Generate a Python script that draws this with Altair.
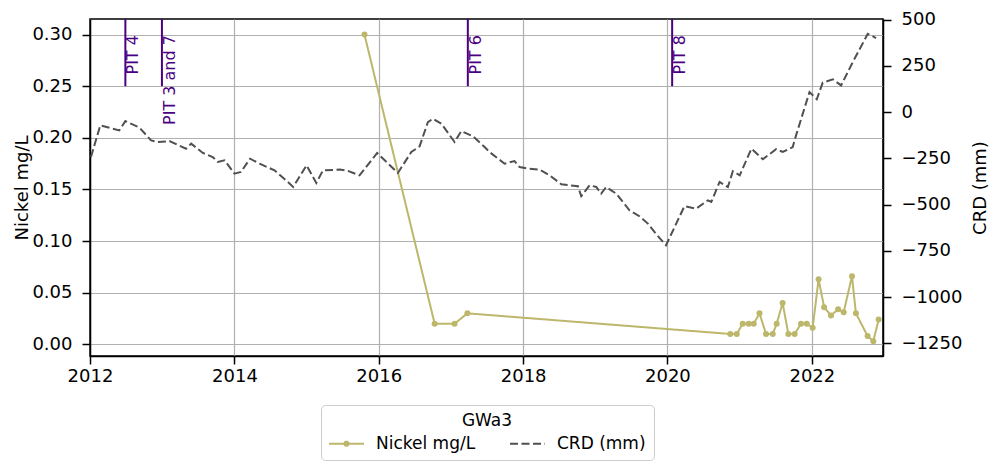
import altair as alt
import pandas as pd

# ---------------- data ----------------
series_names = ["Nickel mg/L", "CRD (mm)"]

nickel_dates = ["2015-10-21", "2016-10-10", "2017-01-19", "2017-03-25",
                "2020-11-14", "2020-12-17", "2021-01-16", "2021-02-15", "2021-03-13",
                "2021-04-11", "2021-05-14", "2021-06-17", "2021-07-07", "2021-08-06",
                "2021-09-04", "2021-10-06", "2021-11-07", "2021-12-06", "2022-01-05",
                "2022-02-04", "2022-03-04", "2022-04-08", "2022-05-14", "2022-06-11",
                "2022-07-23", "2022-08-12", "2022-10-10", "2022-11-08", "2022-12-05"]
nickel_values = [0.30, 0.02, 0.02, 0.03,
                 0.01, 0.01, 0.02, 0.02, 0.02,
                 0.03, 0.01, 0.01, 0.02, 0.04,
                 0.01, 0.01, 0.02, 0.02, 0.016,
                 0.063, 0.036, 0.028, 0.034, 0.031,
                 0.066, 0.030, 0.008, 0.003, 0.024]

crd_dates = ["2012-01-06", "2012-02-22", "2012-05-28", "2012-06-28", "2012-09-07",
             "2012-11-05", "2012-12-09", "2013-02-06", "2013-05-01", "2013-05-27",
             "2013-07-25", "2013-09-13", "2013-10-09", "2013-11-12", "2014-01-01",
             "2014-02-03", "2014-03-21", "2014-05-08", "2014-07-23", "2014-09-28",
             "2014-10-25", "2015-01-01", "2015-02-19", "2015-03-25", "2015-06-17",
             "2015-07-21", "2015-09-26", "2015-12-24", "2016-04-07", "2016-06-14",
             "2016-07-26", "2016-09-06", "2016-10-02", "2016-11-13", "2017-01-19",
             "2017-02-22", "2017-04-22", "2017-06-20", "2017-07-15", "2017-09-29",
             "2017-11-18", "2017-12-14", "2018-01-25", "2018-03-25", "2018-05-15",
             "2018-07-13", "2018-10-05", "2018-10-22", "2018-12-03", "2019-01-06",
             "2019-01-31", "2019-02-25", "2019-04-17", "2019-06-23", "2019-08-12",
             "2019-09-24", "2019-11-05", "2019-12-25", "2020-03-27", "2020-05-26",
             "2020-07-24", "2020-08-10", "2020-09-21", "2020-11-02", "2020-11-27",
             "2021-01-01", "2021-03-01", "2021-04-28", "2021-07-04", "2021-08-07",
             "2021-09-26", "2021-10-13", "2021-12-20", "2022-01-26", "2022-02-25",
             "2022-04-17", "2022-05-29", "2022-07-27", "2022-10-11", "2022-11-22"]
crd_values = [-243, -72, -99, -49, -84,
              -153, -162, -157, -198, -171,
              -221, -243, -270, -261, -333,
              -324, -252, -279, -315, -378,
              -405, -288, -383, -315, -311,
              -315, -342, -221, -329, -216,
              -185, -54, -36, -63, -162,
              -103, -131, -189, -216, -279,
              -265, -297, -306, -311, -342,
              -390, -401, -455, -396, -405,
              -441, -405, -441, -531, -563,
              -603, -660, -720, -509, -522,
              -477, -486, -378, -405, -320,
              -342, -198, -255, -201, -216,
              -189, -126, 108, 69, 159,
              177, 144, 270, 423, 400]

pit_dates = ["2012-06-28", "2012-12-30", "2017-03-27", "2020-01-25"]
pit_labels = ["PIT 4", "PIT 3 and 7", "PIT 6", "PIT 8"]

x_tick_years = [2012, 2014, 2016, 2018, 2020, 2022]
nickel_ticks = [0.0, 0.05, 0.10, 0.15, 0.20, 0.25, 0.30]
crd_ticks = [-1250, -1000, -750, -500, -250, 0, 250, 500]

nickel_df = pd.DataFrame({"date": nickel_dates, "nickel": nickel_values,
                          "series": series_names[0]})
crd_df = pd.DataFrame({"date": crd_dates, "crd": crd_values,
                       "series": series_names[1]})
pit_df = pd.DataFrame({"date": pit_dates, "label": pit_labels})

# ---------------- style ----------------
FONT = "DejaVu Sans"
NICKEL_COLOR = "#BDB76B"
CRD_COLOR = "#505050"
PIT_COLOR = "#4B0082"

axis_style = dict(
    labelFont=FONT, labelFontSize=18, labelColor="black",
    titleFont=FONT, titleFontSize=18, titleFontWeight="normal", titleColor="black",
    tickColor="black", tickSize=8, tickWidth=1.5,
    domainColor="black", domainWidth=1.5,
    gridColor="#b0b0b0", gridWidth=1.2,
)

x_enc = alt.X(
    "date:T",
    scale=alt.Scale(domain=[alt.DateTime(year=2012, month=1, date=1),
                            alt.DateTime(year=2022, month=12, date=27)]),
    axis=alt.Axis(values=[alt.DateTime(year=y, month=1, date=1) for y in x_tick_years],
                  format="%Y", title=None, grid=True, labelPadding=3,
                  labelFlush=False, **axis_style),
)

nickel_scale = alt.Scale(domain=[-0.01133, 0.3151], nice=False, zero=False)
nickel_axis = alt.Axis(values=nickel_ticks, format=".2f", title="Nickel mg/L",
                       orient="left", grid=True, titlePadding=0, labelPadding=10,
                       **axis_style)
crd_scale = alt.Scale(domain=[-1318.6, 503], nice=False, zero=False)
crd_axis = alt.Axis(values=crd_ticks, format="d", title="CRD (mm)", orient="right",
                    grid=False, titlePadding=28, labelPadding=10, titleAngle=270,
                    **axis_style)

color_scale = alt.Scale(domain=series_names, range=[NICKEL_COLOR, CRD_COLOR])
dash_scale = alt.Scale(domain=series_names, range=[[1, 0], [8, 3.5]])

legend = alt.Legend(
    title="GWa3", orient="none", legendX=231, legendY=386,
    direction="horizontal", columns=2, titleAnchor="middle",
    symbolType=alt.ExprRef(
        expr="datum.value === 'Nickel mg/L' ? "
             "'M-2.917,0H2.917M0.35,0A0.35,0.35,0,1,1,-0.35,0A0.35,0.35,0,1,1,0.35,0'"
             " : 'M-2.917,0H2.917'"),
    symbolSize=144, symbolStrokeWidth=2, symbolOffset=9,
    labelOffset=21, columnPadding=29, padding=8,
    strokeColor="#cccccc", fillColor="white", cornerRadius=4,
    labelFont=FONT, labelFontSize=17, labelColor="black",
    titleFont=FONT, titleFontSize=17, titleFontWeight="normal", titleColor="black",
    titlePadding=5,
)

color_enc = alt.Color("series:N", scale=color_scale, legend=legend)
dash_enc = alt.StrokeDash("series:N", scale=dash_scale, legend=legend)

nickel_line = alt.Chart(nickel_df).mark_line(
    strokeWidth=2,
    point=alt.OverlayMarkDef(filled=True, size=36, color=NICKEL_COLOR, opacity=1),
).encode(
    x=x_enc,
    y=alt.Y("nickel:Q", scale=nickel_scale, axis=nickel_axis),
    color=color_enc,
    strokeDash=dash_enc,
)

pit_rules = alt.Chart(pit_df).mark_rule(color=PIT_COLOR, strokeWidth=2).encode(
    x=x_enc,
    y=alt.Y(datum=0.25, scale=nickel_scale, axis=nickel_axis),
    y2=alt.value(0),
)

pit_text = alt.Chart(pit_df).mark_text(
    angle=270, align="right", baseline="top", color=PIT_COLOR,
    font=FONT, fontSize=16,
).encode(
    x=x_enc,
    y=alt.Y(datum=0.2995, scale=nickel_scale, axis=nickel_axis),
    text="label:N",
)

crd_line = alt.Chart(crd_df).mark_line(strokeWidth=2).encode(
    x=x_enc,
    y=alt.Y("crd:Q", scale=crd_scale, axis=crd_axis),
    color=color_enc,
    strokeDash=dash_enc,
)

left = alt.layer(nickel_line, pit_rules, pit_text)

chart = alt.layer(left, crd_line).resolve_scale(
    y="independent"
).properties(
    width=793, height=337,
    padding={"left": 82, "top": 11, "right": 110, "bottom": 108},
    autosize=alt.AutoSizeParams(type="none"),
).configure_view(
    stroke="black", strokeWidth=1.5,
).configure_axis(**axis_style)

chart.save("out.html", embed_options={"renderer": "svg", "actions": False})
